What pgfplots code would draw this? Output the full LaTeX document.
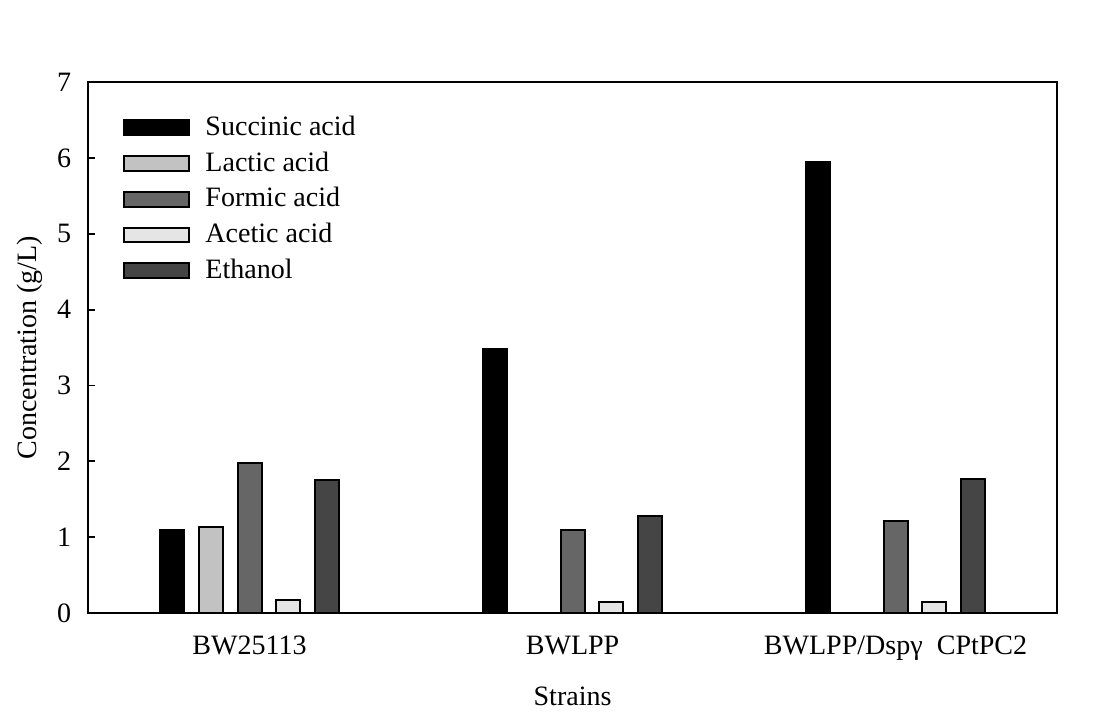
\documentclass[border=0pt,12pt]{standalone}
\usepackage{fontspec}
\setmainfont{Liberation Serif}
\usepackage{pgfplots}
\pgfplotsset{compat=1.18}

\definecolor{succ}{gray}{0.0}
\definecolor{lact}{gray}{0.76}
\definecolor{form}{gray}{0.40}
\definecolor{acet}{gray}{0.90}
\definecolor{etha}{gray}{0.27}

\begin{document}
\begin{tikzpicture}
\begin{axis}[
    scale only axis,
    width=414.7pt, height=227.3pt,
    ybar, bar width=10.3pt, bar shift=0pt,
    xmin=-0.5, xmax=2.5,
    ymin=0, ymax=7,
    xtick={0,1,2},
    xticklabels={BW25113, BWLPP, BWLPP/Dspγ\ \ CPtPC2},
    major x tick style={draw=none},
    ytick={0,1,...,7},
    tick align=inside,
    ytick pos=left,
    major tick length=3pt,
    tick style={line width=0.85pt, black},
    axis line style={line width=0.85pt},
    /pgf/number format/assume math mode=true,
    xticklabel style={yshift=-5.5pt},
    yticklabel style={xshift=-3pt},
    xlabel={Strains},
    ylabel={Concentration (g/L)},
    xlabel style={yshift=-3pt},
    ylabel style={yshift=-2pt},
    legend cell align=left,
    legend style={draw=none, fill=none, at={(0.028,0.955)}, anchor=north west,
        row sep=1.2pt, font=\fontsize{12}{14}\selectfont},
    legend image code/.code={
        \draw[#1, line width=0.85pt] (0pt,-3.2pt) rectangle (28pt,3.2pt);
        \path[draw=none, fill=none] (0pt,0pt) -- (33pt,0pt);
    },
    every axis plot/.append style={draw=black, line width=0.85pt},
]
\addplot[fill=succ] coordinates {(-0.24,1.09) (0.76,3.48) (1.76,5.94)};
\addlegendentry{Succinic acid}
\addplot[fill=lact] coordinates {(-0.12,1.13)};
\addlegendentry{Lactic acid}
\addplot[fill=form] coordinates {(0,1.98) (1,1.09) (2,1.21)};
\addlegendentry{Formic acid}
\addplot[fill=acet] coordinates {(0.12,0.17) (1.12,0.145) (2.12,0.145)};
\addlegendentry{Acetic acid}
\addplot[fill=etha] coordinates {(0.24,1.75) (1.24,1.28) (2.24,1.77)};
\addlegendentry{Ethanol}
\end{axis}
\path[use as bounding box] ([xshift=-37.7pt,yshift=-45.4pt]current axis.south west)
    rectangle ([xshift=18.8pt,yshift=35.1pt]current axis.north east);
\end{tikzpicture}
\end{document}
